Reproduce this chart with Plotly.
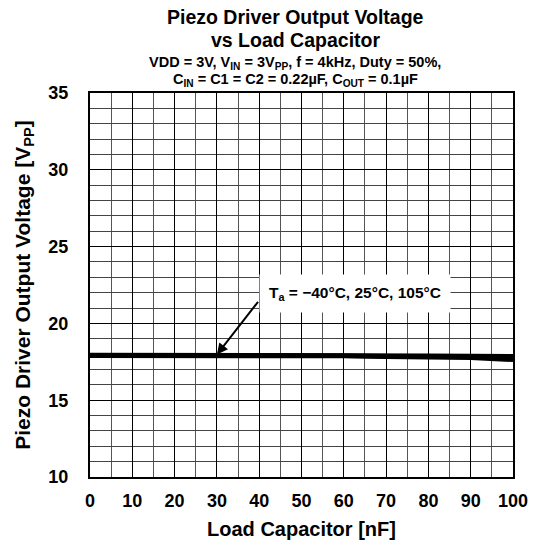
import plotly.graph_objects as go

load_nf = [0, 10, 20, 30, 40, 50, 60, 70, 80, 90, 100]
v_m40 = [17.95, 17.95, 17.95, 17.95, 17.97, 17.97, 17.93, 17.9, 17.9, 17.87, 17.86]
v_25 = [17.92, 17.92, 17.92, 17.92, 17.94, 17.94, 17.9, 17.86, 17.86, 17.82, 17.75]
v_105 = [17.89, 17.89, 17.89, 17.89, 17.91, 17.91, 17.87, 17.83, 17.82, 17.76, 17.63]
series = [("-40°C", v_m40), ("25°C", v_25), ("105°C", v_105)]

font = "Liberation Sans, Arial, sans-serif"
W, H = 528, 536
L, T, R, B = 82, 85, 23, 67
fig = go.Figure()
for name, ys in series:
    fig.add_trace(go.Scatter(x=load_nf, y=ys, mode="lines", name=name,
                             line=dict(color="black", width=4.5), showlegend=False))

fig.update_layout(
    width=W, height=H,
    margin=dict(l=L, r=R, t=T, b=B, autoexpand=False),
    paper_bgcolor="white", plot_bgcolor="white",
    font=dict(family=font, color="black"),
    xaxis=dict(range=[0, 100], dtick=10, tick0=0, showgrid=True, gridcolor="black", gridwidth=1,
               minor=dict(dtick=5, showgrid=True, gridcolor="#555555", gridwidth=1),
               showline=True, linecolor="black", linewidth=2, mirror=True, zeroline=False,
               automargin=False,
               ticks="", tickfont=dict(size=18, family=font, weight="bold"), ticklabelstandoff=6,
               title=dict(text="Load Capacitor [nF]", font=dict(size=20, family=font, weight="bold"), standoff=12)),
    yaxis=dict(range=[10, 35], dtick=5, tick0=10, showgrid=True, gridcolor="black", gridwidth=1,
               minor=dict(dtick=1, showgrid=True, gridcolor="#444444", gridwidth=1),
               showline=True, linecolor="black", linewidth=2, mirror=True, zeroline=False,
               automargin=False,
               ticks="", tickfont=dict(size=18, family=font, weight="bold"), ticklabelstandoff=16,
               title=dict(text="Piezo Driver Output Voltage [V<sub>PP</sub>]", font=dict(size=21, family=font, weight="bold"), standoff=12)),
)

fig.add_annotation(x=30, y=17.97, ax=40, ay=21.5, xref="x", yref="y", axref="x", ayref="y",
                   text="", showarrow=True, arrowhead=2, arrowsize=1.1, arrowwidth=2, arrowcolor="black")
fig.add_annotation(x=62.6, y=21.95, xref="x", yref="y", showarrow=False,
                   text="T<sub>a</sub> = −40°C, 25°C, 105°C", bgcolor="white",
                   borderpad=9, font=dict(size=15.5, family=font, weight="bold"))

plot_h = H - T - B
titles = [
    ("Piezo Driver Output Voltage", 19.5, 17),
    ("vs Load Capacitor", 19.5, 40),
    ("VDD = 3V, V<sub>IN</sub> = 3V<sub>PP</sub>, f = 4kHz, Duty = 50%,", 14.5, 63),
    ("C<sub>IN</sub> = C1 = C2 = 0.22µF, C<sub>OUT</sub> = 0.1µF", 14.5, 80),
]
for txt, size, ypx in titles:
    fig.add_annotation(text=txt, xref="paper", yref="paper", x=0.485,
                       y=1 + (T + 8 - ypx) / plot_h, yanchor="middle", xanchor="center",
                       showarrow=False, font=dict(size=size, family=font, weight="bold"))

fig.write_html("out.html")
